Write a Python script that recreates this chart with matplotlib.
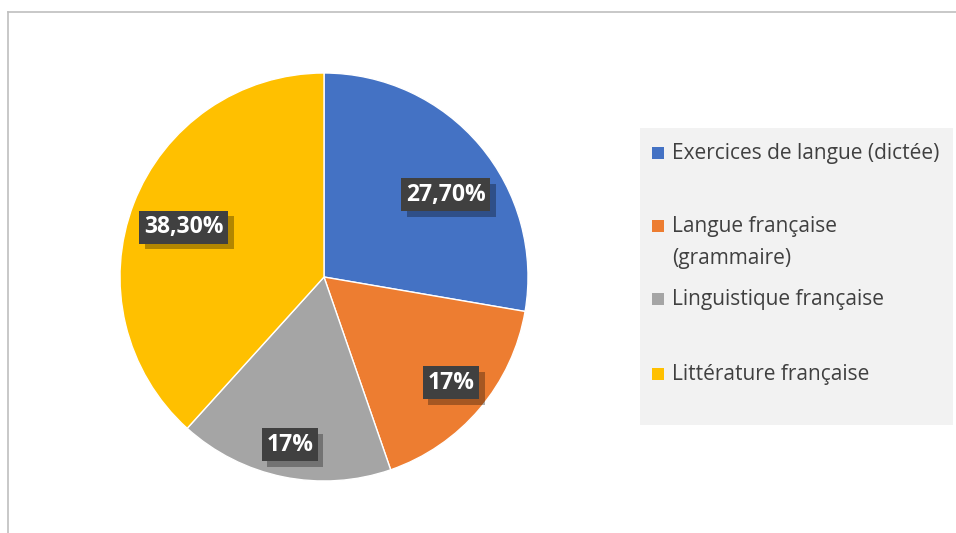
import matplotlib.pyplot as plt
from matplotlib.patches import Rectangle
from matplotlib.lines import Line2D
import matplotlib.patheffects as pe
import numpy as np

# donnees
categories = ["Exercices de langue (dictée)", "Langue française\n(grammaire)",
              "Linguistique française", "Littérature française"]
valeurs = [27.7, 17, 17, 38.3]
etiquettes = ["27,70%", "17%", "17%", "38,30%"]
couleurs = ["#4472C4", "#ED7D31", "#A5A5A5", "#FFC000"]

plt.rcParams['font.family'] = ['Open Sans', 'DejaVu Sans']

W, H = 956, 533
fig = plt.figure(figsize=(W / 100, H / 100), dpi=100)

# cadre (bord gris haut + gauche)
fig.add_artist(Line2D([8 / W, 1], [1 - 12 / H, 1 - 12 / H], color="#bfbfbf", lw=1.2))
fig.add_artist(Line2D([8 / W, 8 / W], [1 - 12 / H, 0], color="#bfbfbf", lw=1.2))

# camembert
cx, cy, r = 324, 277, 204
ax = fig.add_axes([(cx - r) / W, (H - cy - r) / H, 2 * r / W, 2 * r / H])
wedges, _ = ax.pie(valeurs, colors=couleurs, startangle=90, counterclock=False,
                   radius=1, wedgeprops=dict(edgecolor="white", linewidth=1.0))
ax.set_xlim(-1, 1)
ax.set_ylim(-1, 1)
ax.set_aspect('auto')

# etiquettes de donnees (fond sombre + ombre)
dist = [0.72, 0.81, 0.84, 0.73]
decal = [-6, 0.5, 0, 1.5]   # petit decalage angulaire (degres) comme Excel
for w, lab, d, da in zip(wedges, etiquettes, dist, decal):
    ang = np.deg2rad((w.theta1 + w.theta2) / 2 + da)
    x, y = d * np.cos(ang), d * np.sin(ang)
    t = ax.text(x, y, lab, ha='center', va='center', fontsize=16.5, fontweight='bold',
                color='white',
                bbox=dict(boxstyle='square,pad=0.2', facecolor='#404040', edgecolor='none'))
    t.get_bbox_patch().set_path_effects([
        pe.SimplePatchShadow(offset=(4, -4), shadow_rgbFace='black', alpha=0.3),
        pe.Normal()])

# legende
fig.add_artist(Rectangle((640 / W, 1 - 425 / H), (953 - 640) / W, (425 - 128) / H,
                         transform=fig.transFigure, facecolor="#f2f2f2", edgecolor='none'))
leg_y = [153, 226, 299, 374]
for cat, col, ly in zip(categories, couleurs, leg_y):
    fig.add_artist(Rectangle((652 / W, 1 - (ly + 6) / H), 12 / W, 12 / H,
                             transform=fig.transFigure, facecolor=col, edgecolor='none'))
    fig.text(672 / W, 1 - (ly - 10) / H, cat, ha='left', va='top', fontsize=15,
             color="#404040", linespacing=1.7)

fig.savefig("out.png", dpi=100)
